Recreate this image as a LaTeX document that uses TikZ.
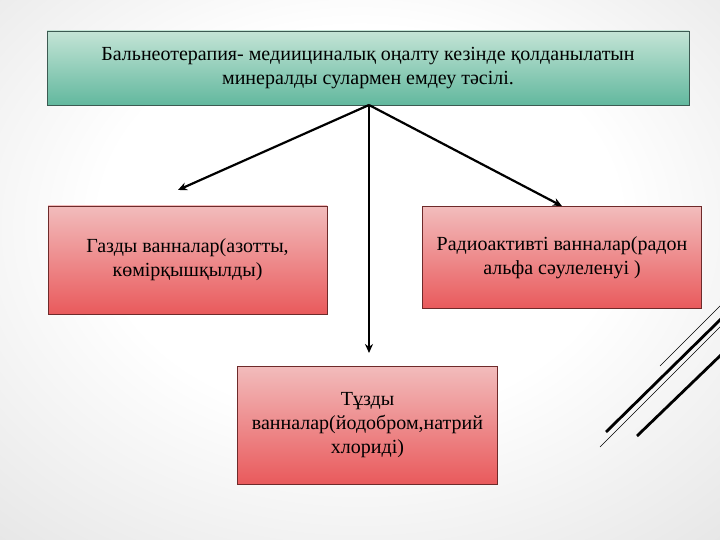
\documentclass[tikz,border=0pt]{standalone}
\usepackage{fontspec}
\setmainfont{Liberation Serif}
\usetikzlibrary{arrows.meta}
\definecolor{greenTop}{HTML}{C4E4D6}
\definecolor{greenBot}{HTML}{62B89E}
\definecolor{greenLine}{HTML}{3C5A52}
\definecolor{redTop}{HTML}{F2BCBC}
\definecolor{redBot}{HTML}{E95A5C}
\definecolor{redLine}{HTML}{6E2A2A}
\pgfdeclareradialshading{slidebg}{\pgfpoint{0bp}{6bp}}{color(0bp)=(white); color(18bp)=(white); color(72bp)=(black!26)}
\tikzset{
  box/.style={draw, line width=0.8pt, align=center, inner sep=0pt,
    font=\fontsize{20}{24}\selectfont},
  mainbox/.style={box, draw=greenLine, top color=greenTop, bottom color=greenBot},
  bathbox/.style={box, draw=redLine, top color=redTop, bottom color=redBot},
  link/.style={-{Stealth[length=9pt,width=8pt]}, line width=2.2pt},
}
\begin{document}
\begin{tikzpicture}[x=1pt,y=-1pt]
  \useasboundingbox (0,0) rectangle (720,540);
  \shade[shading=slidebg] (0,0) rectangle (720,540);
  % boxes
  \node[mainbox, minimum width=642pt, minimum height=74pt] (balneo) at (368,68)
    {Бальнеотерапия- медиициналық оңалту кезінде қолданылатын\\минералды сулармен емдеу тәсілі.};
  \node[bathbox, minimum width=279pt, minimum height=108pt] (gaz) at (187.5,260)
    {Газды ванналар(азотты,\\көмірқышқылды)};
  \node[bathbox, minimum width=279pt, minimum height=102pt] (radio) at (562,257.5)
    {Радиоактивті ванналар(радон\\альфа сәулеленуі )};
  \node[bathbox, minimum width=260pt, minimum height=118pt] (tuz) at (367.5,425)
    {Тұзды\\ванналар(йодобром,натрий\\хлориді)};
  % arrows
  \coordinate (hub) at (369,105);
  \coordinate (gazEnd) at (178,190);
  \coordinate (tuzEnd) at (369,353);
  \draw[link] (hub) -- (gazEnd);
  \draw[link] (hub) -- (radio.north);
  \draw[link] (hub) -- (tuzEnd);
  % corner lines
  \begin{scope}
    \clip (0,0) rectangle (720,540);
    \draw[line width=0.5pt] (660,366) -- (724,302);
    \draw[line width=2.8pt] (606,432) -- (724,316);
    \draw[line width=0.6pt] (600,447) -- (724,323);
    \draw[line width=2.8pt] (637,436) -- (724,352);
  \end{scope}
\end{tikzpicture}
\end{document}
